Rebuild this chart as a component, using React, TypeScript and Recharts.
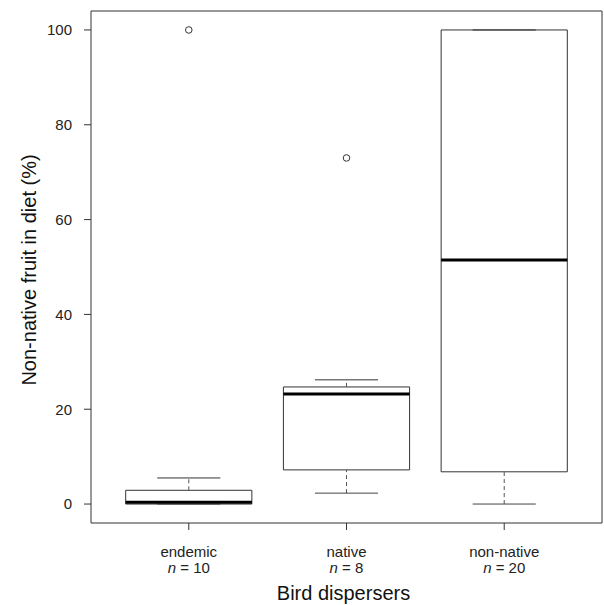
import React from 'react';
import { ComposedChart, XAxis, YAxis, Scatter, ReferenceArea, ReferenceLine } from 'recharts';

const categories = ['endemic', 'native', 'non-native'];
const nCounts = [10, 8, 20];
const whiskerLow = [0, 2.3, 0];
const q1 = [0, 7.2, 6.8];
const median = [0.4, 23.2, 51.5];
const q3 = [2.9, 24.7, 100];
const whiskerHigh = [5.5, 26.2, 100];
const outliers = [
  { x: 1, y: 100 },
  { x: 2, y: 73 },
];
const yTicks = [0, 20, 40, 60, 80, 100];
const xTicks = [1, 2, 3];

const FONT = '"Liberation Sans", Arial, sans-serif';
const BOX_HALF = 0.4;
const CAP_HALF = 0.2;

const XTick = (props: any) => {
  const { x, y, payload } = props;
  const i = Math.round(payload.value) - 1;
  return (
    <g>
      <text x={x} y={y + 25} textAnchor="middle" fontSize={15} fontFamily={FONT} fill="#222">
        {categories[i]}
      </text>
      <text x={x} y={y + 41} textAnchor="middle" fontSize={15} fontFamily={FONT} fill="#222">
        <tspan fontStyle="italic">n</tspan>
        <tspan>{' = ' + nCounts[i]}</tspan>
      </text>
    </g>
  );
};

const XTitle = (props: any) => {
  const vb = props.viewBox || {};
  return (
    <text x={vb.x + vb.width / 2 - 3} y={600} textAnchor="middle" fontSize={20} fontFamily={FONT} fill="#111">
      Bird dispersers
    </text>
  );
};

const YTitle = (props: any) => {
  const vb = props.viewBox || {};
  const cy = vb.y + vb.height / 2 + 3;
  return (
    <text
      x={36}
      y={cy}
      transform={`rotate(-90, 36, ${cy})`}
      textAnchor="middle"
      fontSize={20}
      fontFamily={FONT}
      fill="#111"
    >
      Non-native fruit in diet (%)
    </text>
  );
};

const Outlier = (props: any) => (
  <circle cx={props.cx} cy={props.cy} r={3.3} fill="#fff" stroke="#333" strokeWidth={1} />
);

export default function App() {
  return (
    <div style={{ position: 'absolute', left: 0, top: 0, background: '#fff' }}>
      <ComposedChart width={604} height={605} margin={{ top: 11, right: 2, left: 0, bottom: 0 }}>
        <XAxis
          type="number"
          dataKey="x"
          domain={[0.38, 3.62]}
          ticks={xTicks}
          height={82}
          axisLine={false}
          tickSize={7}
          tickLine={{ stroke: '#333' }}
          tick={<XTick />}
          interval={0}
          allowDataOverflow
          label={{ content: <XTitle /> }}
        />
        <YAxis
          type="number"
          dataKey="y"
          domain={[-4, 104]}
          ticks={yTicks}
          width={91}
          axisLine={false}
          tickSize={7}
          tickMargin={12}
          tickLine={{ stroke: '#333' }}
          tick={{ fill: '#222', fontSize: 15, fontFamily: FONT }}
          interval={0}
          allowDataOverflow
          label={{ content: <YTitle /> }}
        />
        <ReferenceArea
          x1={0.38}
          x2={3.62}
          y1={-4}
          y2={104}
          fill="none"
          fillOpacity={0}
          stroke="#333"
          strokeWidth={1}
          ifOverflow="visible"
        />
        {categories.map((c, i) => (
          <ReferenceLine
            key={'wu' + c}
            segment={[
              { x: i + 1, y: q3[i] },
              { x: i + 1, y: whiskerHigh[i] },
            ]}
            stroke="#555"
            strokeDasharray="4 3"
            ifOverflow="visible"
          />
        ))}
        {categories.map((c, i) => (
          <ReferenceLine
            key={'wl' + c}
            segment={[
              { x: i + 1, y: whiskerLow[i] },
              { x: i + 1, y: q1[i] },
            ]}
            stroke="#555"
            strokeDasharray="4 3"
            ifOverflow="visible"
          />
        ))}
        {categories.map((c, i) => (
          <ReferenceLine
            key={'cu' + c}
            segment={[
              { x: i + 1 - CAP_HALF, y: whiskerHigh[i] },
              { x: i + 1 + CAP_HALF, y: whiskerHigh[i] },
            ]}
            stroke="#333"
            ifOverflow="visible"
          />
        ))}
        {categories.map((c, i) => (
          <ReferenceLine
            key={'cl' + c}
            segment={[
              { x: i + 1 - CAP_HALF, y: whiskerLow[i] },
              { x: i + 1 + CAP_HALF, y: whiskerLow[i] },
            ]}
            stroke="#444"
            ifOverflow="visible"
          />
        ))}
        {categories.map((c, i) => (
          <ReferenceArea
            key={'box' + c}
            x1={i + 1 - BOX_HALF}
            x2={i + 1 + BOX_HALF}
            y1={q1[i]}
            y2={q3[i]}
            fill="#fff"
            fillOpacity={1}
            stroke="#333"
            strokeWidth={1}
            ifOverflow="visible"
          />
        ))}
        {categories.map((c, i) => (
          <ReferenceLine
            key={'med' + c}
            segment={[
              { x: i + 1 - BOX_HALF, y: median[i] },
              { x: i + 1 + BOX_HALF, y: median[i] },
            ]}
            stroke="#000"
            strokeWidth={3}
            ifOverflow="visible"
          />
        ))}
        <Scatter data={outliers} dataKey="y" shape={<Outlier />} isAnimationActive={false} />
      </ComposedChart>
    </div>
  );
}
